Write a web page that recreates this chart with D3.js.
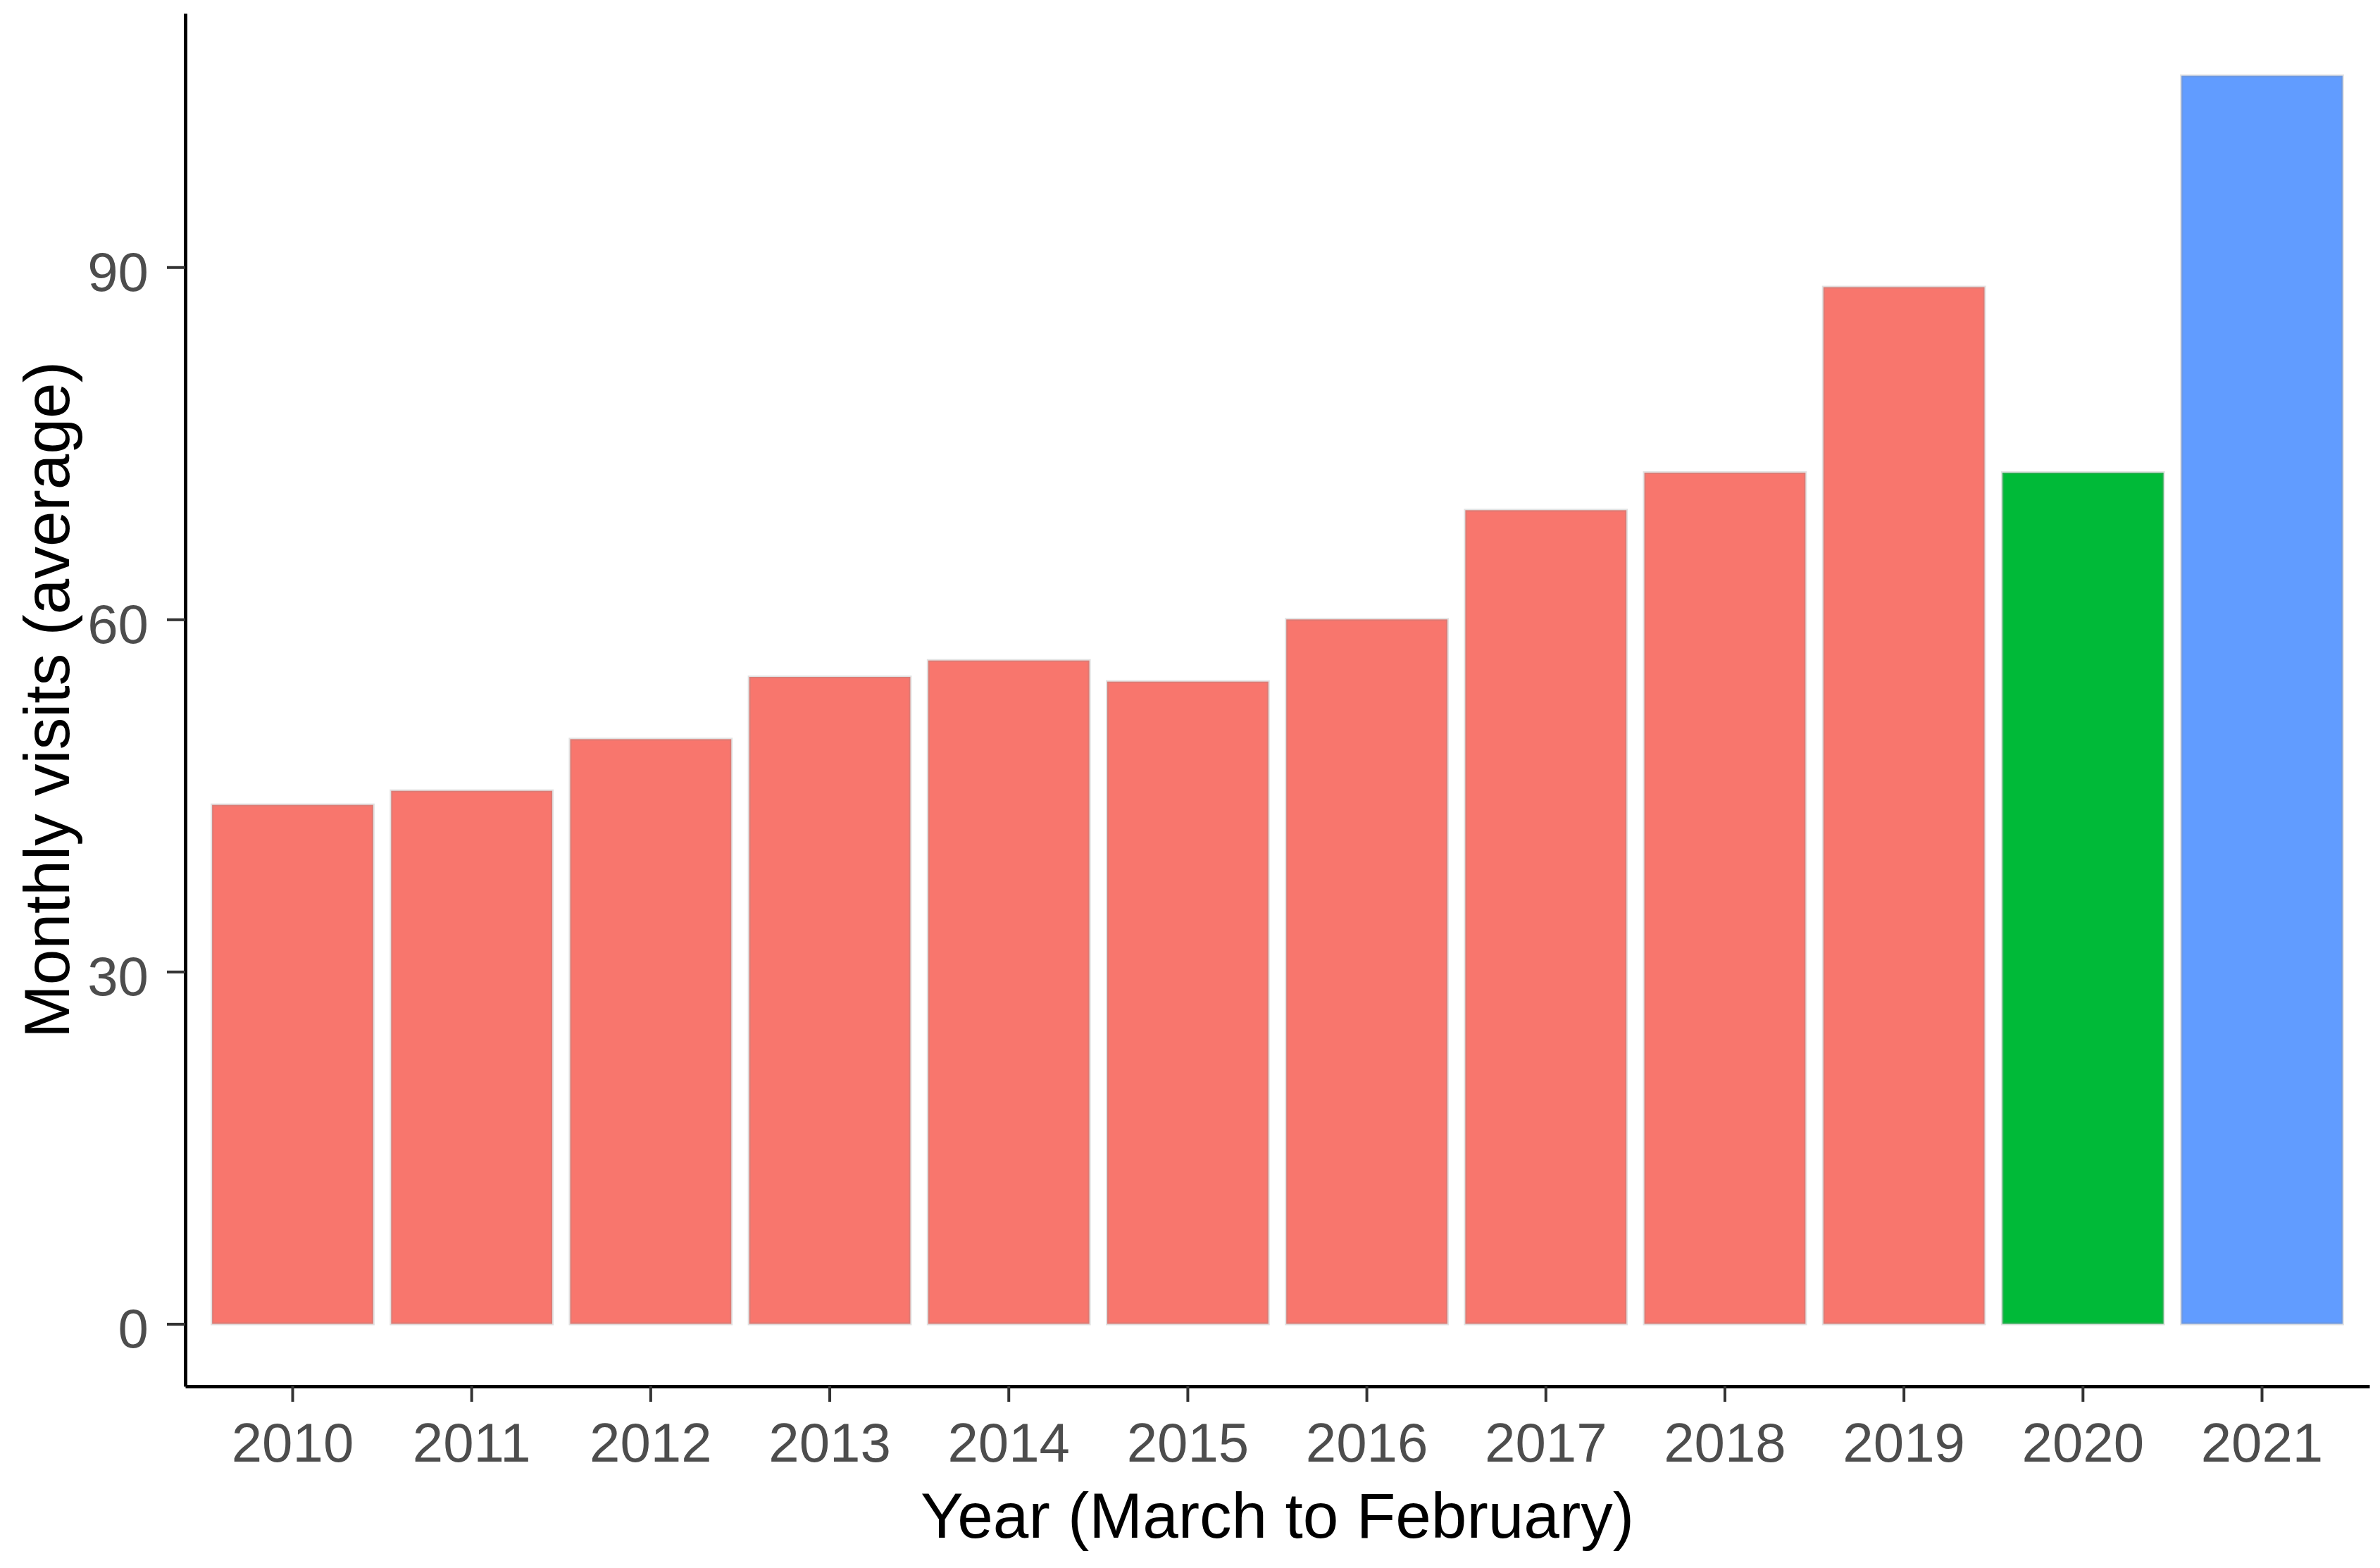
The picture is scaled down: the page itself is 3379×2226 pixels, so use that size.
<!DOCTYPE html>
<html lang="en">
<head>
<meta charset="utf-8">
<title>Monthly visits</title>
<script src="https://d3js.org/d3.v7.min.js"></script>
<style>
  html, body { margin: 0; padding: 0; background: #fff; }
  svg text { font-family: "Liberation Sans", Arial, sans-serif; }
</style>
</head>
<body>
<svg id="chart" width="3379" height="2226"></svg>
<script>
// data
const years = ["2010","2011","2012","2013","2014","2015","2016","2017","2018","2019","2020","2021"];
const visits = [44.2, 45.4, 49.8, 55.1, 56.5, 54.7, 60.0, 69.3, 72.5, 88.3, 72.5, 106.3];
const groups = ["pre","pre","pre","pre","pre","pre","pre","pre","pre","pre","covid","post"];
const yTicks = [0, 30, 60, 90];

const groupColour = {pre: "#F8766D", covid: "#00BA38", post: "#619CFF"};

const svg = d3.select("#chart");
const panelLeft = 263, panelRight = 3364, panelTop = 19, panelBottom = 1968;

const vmax = d3.max(visits);
const x = d3.scaleBand()
    .domain(years)
    .range([panelLeft, panelRight])
    .paddingInner(0.1)
    .paddingOuter(0.15);

const y = d3.scaleLinear()
    .domain([-0.05 * vmax, 1.05 * vmax])
    .range([panelBottom, panelTop]);

const rows = years.map((yr, i) => ({year: yr, v: visits[i], g: groups[i]}));

// bars
svg.append("g")
  .selectAll("rect")
  .data(rows)
  .enter()
  .append("rect")
    .attr("x", d => x(d.year))
    .attr("y", d => y(d.v))
    .attr("width", x.bandwidth())
    .attr("height", d => y(0) - y(d.v))
    .attr("fill", d => groupColour[d.g])
    .attr("stroke", "#8a8a8a")
    .attr("stroke-opacity", 0.25)
    .attr("stroke-width", 4);

// y axis
const yAxis = svg.append("g")
    .attr("transform", `translate(${panelLeft},0)`)
    .call(d3.axisLeft(y).tickValues(yTicks).tickSize(26).tickPadding(26).tickSizeOuter(0));

// x axis
const xAxis = svg.append("g")
    .attr("transform", `translate(0,${panelBottom})`)
    .call(d3.axisBottom(x).tickSize(22).tickPadding(30).tickSizeOuter(0));

[yAxis, xAxis].forEach(ax => {
  ax.select(".domain").attr("stroke", "#000").attr("stroke-width", 5);
  ax.selectAll(".tick line").attr("stroke", "#333333").attr("stroke-width", 4);
  ax.selectAll(".tick text")
    .attr("fill", "#4D4D4D")
    .style("font-size", "78px")
    .style("font-family", "'Liberation Sans', Arial, sans-serif");
});
yAxis.selectAll(".tick text").attr("dy", "0.42em");

// axis titles
svg.append("text")
    .attr("x", (panelLeft + panelRight) / 2)
    .attr("y", 2183)
    .attr("text-anchor", "middle")
    .attr("fill", "#000")
    .style("font-size", "91px")
    .text("Year (March to February)");

svg.append("text")
    .attr("transform", `translate(98,${(panelTop + panelBottom) / 2}) rotate(-90)`)
    .attr("text-anchor", "middle")
    .attr("fill", "#000")
    .style("font-size", "91px")
    .text("Monthly visits (average)");
</script>
</body>
</html>
